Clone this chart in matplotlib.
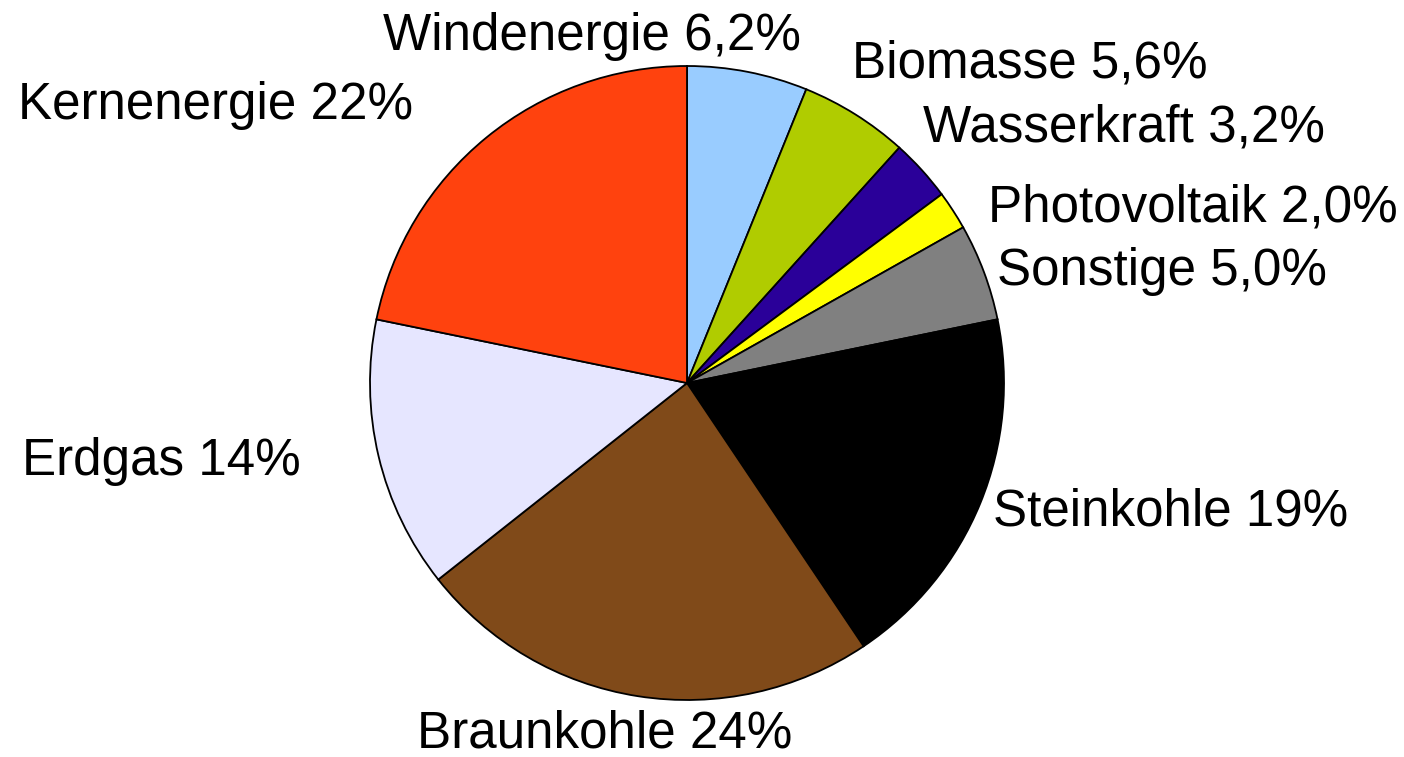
import matplotlib
matplotlib.use('Agg')
import matplotlib.pyplot as plt

# Stromerzeugung nach Energieträger (Anteile in %)
sources = ['Windenergie', 'Biomasse', 'Wasserkraft', 'Photovoltaik', 'Sonstige',
           'Steinkohle', 'Braunkohle', 'Erdgas', 'Kernenergie']
shares = [6.2, 5.6, 3.2, 2.0, 5.0, 19, 24, 14, 22]
colors = ['#99ccff', '#b0cc00', '#2a0099', '#ffff00', '#808080',
          '#000000', '#804a19', '#e6e6ff', '#ff420e']

# label anchors (left, baseline) in pixels of the 1404x757 canvas
label_px = [(383, 50), (852, 78), (923, 142), (988, 222), (997, 285),
            (993, 525), (417, 747), (22, 475), (18, 119)]

W, H = 1404, 757
cx, cy, r = 687, 383, 317

plt.rcParams['font.family'] = ['Liberation Sans', 'DejaVu Sans']

fig = plt.figure(figsize=(W / 100, H / 100), dpi=100)
ax = fig.add_axes([(cx - r) / W, (H - cy - r) / H, 2 * r / W, 2 * r / H])

ax.pie(shares, colors=colors, startangle=90, counterclock=False, radius=1,
       wedgeprops=dict(edgecolor='black', linewidth=1.3))
ax.set_xlim(-1, 1)
ax.set_ylim(-1, 1)
ax.set_axis_off()


def fmt(v):
    if v < 10:
        return f'{v:.1f}'.replace('.', ',') + '%'
    return f'{v:.0f}%'


for name, v, (px, py) in zip(sources, shares, label_px):
    fig.text(px / W, 1 - py / H, f'{name} {fmt(v)}', fontsize=36.8,
             ha='left', va='baseline', color='black')

fig.savefig('out.png', dpi=100, facecolor='white')
